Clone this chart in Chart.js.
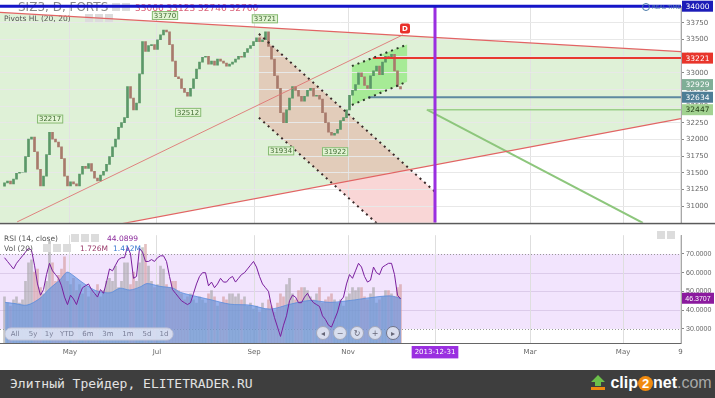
<!DOCTYPE html>
<html>
<head>
<meta charset="utf-8">
<script src="https://cdn.jsdelivr.net/npm/chart.js@4.4.0/dist/chart.umd.min.js"></script>
<style>
  body { margin: 0; background: #fff; width: 715px; height: 398px; overflow: hidden; position: relative; }
  #priceChart { position: absolute; left: 0; top: 0; }
  #rsiChart { position: absolute; left: 0; top: 229px; }
  .foot { position: absolute; left: 0; top: 370px; width: 715px; height: 28px; background: #3e3e3e; }
  .foot .cap { position: absolute; left: 10px; top: 6px; font: 13px 'DejaVu Sans Mono', monospace; color: #e2e2e2; }
  .foot .logo { position: absolute; left: 590px; top: 4px; font: bold 16px 'Liberation Sans', sans-serif; color: #fff; white-space: nowrap; }
  .foot .two { display: inline-block; width: 15px; height: 15px; border-radius: 50%; background: #f08a10; text-align: center; line-height: 15px; font-size: 13px; }
  .foot .com { color: #a8a8a8; font-weight: normal; }
</style>
</head>
<body>
<canvas id="priceChart" width="715" height="229"></canvas>
<canvas id="rsiChart" width="715" height="141"></canvas>
<div class="foot">
  <span class="cap">Элитный Трейдер, ELITETRADER.RU</span>
  <span class="logo"><svg width="16" height="17" style="vertical-align:-3px"><polygon points="8,1 15,8 11,8 11,12 5,12 5,8 1,8" fill="#6cc04a"/><rect x="1" y="13" width="14" height="3" fill="#f08a10"/></svg> clip<span class="two">2</span>net<span class="com">.com</span></span>
</div>
<script>
// x units: one candle per step, dates only as tick labels
const tickPos = [21.8, 50.8, 83.2, 114.5, 143.5, 175.2, 206.2, 225.3];
const tickText = ['May', 'Jul', 'Sep', 'Nov', '2013-12-31', 'Mar', 'May', '9'];

const firstOpen = 31300;
const closes = [
  31348, 31377, 31333, 31406, 31494, 31509, 31509, 31743, 32006, 32035,
  31816, 31553, 31304, 31450, 31772, 32108, 32006, 31962, 31889, 31713,
  31450, 31304, 31363, 31333, 31304, 31480, 31597, 31567, 31640, 31523,
  31421, 31377, 31465, 31523, 31626, 31743, 31889, 32006, 32181, 32254,
  32327, 32795, 32620, 32444, 32547, 32985, 33468, 33322, 33409, 33424,
  33351, 33497, 33570, 33643, 33614, 33424, 33175, 32942, 32912, 32766,
  32708, 32649, 32766, 32912, 33058, 33161, 33234, 33249, 33132, 33175,
  33117, 33205, 33175, 33146, 33102, 33132, 33161, 33205, 33249, 33234,
  33307, 33365, 33409, 33468, 33526, 33468, 33497, 33614, 33395, 33205,
  32956, 32766, 32401, 32254, 32444, 32620, 32795, 32737, 32649, 32576,
  32649, 32737, 32766, 32649, 32664, 32605, 32401, 32254, 32108, 32064,
  32094, 32152, 32284, 32327, 32444, 32664, 32737, 32825, 33000, 32942,
  32810, 32766, 32956, 33029, 33102, 32971, 33161, 33249, 33234, 33278,
  33029, 32795, 32760
];
const rsi = [
  68, 66, 64, 62, 65, 67, 69, 71, 73, 72, 64, 54, 48, 51, 59, 65, 61, 59, 57, 53,
  47, 43, 48, 46, 43, 48, 52, 53, 54, 51, 49, 47, 51, 49, 55, 62, 61, 64, 67, 68,
  68, 74, 70, 57, 58, 73, 71, 66, 66, 67, 66, 68, 69, 69, 66, 58, 51, 49, 47, 45,
  44, 43, 44, 49, 54, 58, 60, 60, 53, 55, 52, 54, 57, 55, 55, 57, 58, 55, 57, 59,
  60, 62, 64, 66, 63, 58, 54, 52, 50, 42, 36, 31, 26, 32, 37, 45, 48, 47, 44, 44,
  47, 49, 46, 44, 43, 42, 37, 35, 32, 31, 35, 39, 45, 47, 54, 59, 57, 61, 65, 63,
  58, 55, 56, 63, 60, 59, 63, 64, 65, 65, 59, 48, 46
];
const volume = [
  1.5, 1.3, 1.2, 1.4, 1.5, 1.3, 1.4, 2.0, 2.6, 2.7, 2.3, 2.4, 1.8, 1.6, 2.0, 3.3, 2.6, 2.0, 2.2, 2.4,
  2.8, 2.0, 1.9, 2.1, 1.7, 1.9, 1.6, 1.8, 1.5, 1.7, 1.6, 1.9, 1.5, 1.7, 2.0, 2.1, 2.0, 2.5, 1.8, 2.0,
  2.6, 2.6, 1.9, 2.3, 2.0, 2.6, 3.1, 3.2, 2.5, 2.0, 1.8, 1.9, 2.5, 2.4, 1.9, 1.8, 2.0, 2.0, 1.7, 1.6,
  1.4, 1.5, 1.6, 1.4, 1.3, 1.5, 1.4, 1.3, 1.6, 1.7, 1.5, 1.2, 1.3, 1.5, 1.4, 1.6, 1.6, 1.5, 1.6, 1.4,
  1.5, 1.2, 1.3, 1.1, 1.2, 1.0, 1.3, 1.1, 1.4, 1.2, 1.0, 1.3, 1.6, 1.5, 1.9, 2.1, 1.6, 1.4, 1.7, 1.8,
  1.8, 1.7, 1.5, 1.4, 1.6, 1.8, 1.3, 1.4, 1.5, 1.6, 1.4, 1.3, 1.4, 1.2, 1.5, 1.6, 1.8, 1.7, 1.8, 1.8,
  1.5, 1.4, 1.6, 1.8, 1.3, 1.4, 1.5, 1.7, 1.7, 1.6, 1.5, 1.8, 1.9
];
const volMaDay = [0.2, 3.5, 7.5, 11.8, 15.2, 18.5, 20.8, 22.8, 25.2, 28.5, 30.8, 35.2, 38.5, 41.8, 45.2, 47.5,
  51.8, 56.2, 58.5, 61.8, 68.5, 75.2, 81.8, 88.5, 95.2, 101.8, 108.5, 115.2, 121.8, 128.5, 132.2];
const volMa = [1.32, 1.28, 1.23, 1.45, 1.78, 2.05, 2.30, 2.20, 2.02, 1.80, 1.69, 1.63, 1.78, 1.72, 1.82, 1.93,
  1.84, 1.78, 1.65, 1.56, 1.41, 1.26, 1.23, 1.10, 1.26, 1.38, 1.32, 1.38, 1.47, 1.53, 1.45];

// drawn lines: two anchors each (day, price)
const resistDay = [-1.5, 225.5], resistVal = [33906, 33317];
const supportDay = [-1.5, 225.5], supportVal = [30393, 32313];
const thinDay = [4.2, 132.8], thinVal = [30763, 33570];
const chanTopDay = [84.8, 143.5], chanTopVal = [33585, 31216];
const chanBotDay = [84.8, 143.5], chanBotVal = [32327, 29959];
const flagTopDay = [115.8, 134.2], flagTopVal = [33102, 33424];
const flagBotDay = [115.8, 134.2], flagBotVal = [32518, 32868];
const levelStart = [122.8, 121.2, 140.8], levelVal = [33221, 32634, 32447];
const projDay = [140.8, 212.8], projVal = [32447, 30748];
const cutDay = 143.5;
const topLevel = 34000;

const pivotDay = [15.2, 53.5, 86.8, 61.2, 92.2, 110.2];
const pivotVal = [32217, 33770, 33721, 32512, 31934, 31922];
const pivotHigh = [true, true, true, false, false, false];

const markVal = [34000, 33221, 32929, 32634, 32447];
const markFill = ['#1c1cb8', '#e8352b', '#7fae97', '#4d7d96', '#a2d291'];
const markInk = ['#fff', '#fff', '#fff', '#fff', '#1e3a12'];
const markNudge = [0, 0, 7, 0, 0];

const rsiNow = 46.3707;
const headerOhlc = '33066 33123 32746 32760';

const UP = '#5b9868', DOWN = '#a87a6c';
const opens = [firstOpen].concat(closes.slice(0, -1));

function seg (days, vals) {
  return days.map((d, i) => ({ x: d, y: vals[i] }));
}

function lineDs (days, vals, color, width, dash) {
  return { type: 'line', data: seg(days, vals), borderColor: color, borderWidth: width,
    borderDash: dash || [], pointRadius: 0, fill: false, order: 1 };
}

function poly (ctx, pts, color) {
  ctx.beginPath();
  pts.forEach((p, i) => i ? ctx.lineTo(p[0], p[1]) : ctx.moveTo(p[0], p[1]));
  ctx.closePath();
  ctx.fillStyle = color;
  ctx.fill();
}

function squares (ctx, x0, y0, n) {
  ctx.fillStyle = '#dcdcdc';
  for (let i = 0; i < n; i++) ctx.fillRect(x0 + i * 10, y0, 8, 8);
}

const dots = [2, 4];

const priceDecor = {
  id: 'priceDecor',
  beforeDraw (chart) {
    const { ctx, chartArea: a, scales: { x, y } } = chart;
    const P = (d, v) => [x.getPixelForValue(d), y.getPixelForValue(v)];
    ctx.save();
    ctx.beginPath();
    ctx.rect(a.left, a.top, a.right - a.left, a.bottom - a.top);
    ctx.clip();
    poly(ctx, [P(resistDay[0], resistVal[0]), P(resistDay[1], resistVal[1]),
      P(supportDay[1], supportVal[1]), P(supportDay[0], supportVal[0])], 'rgba(165,215,145,0.36)');
    poly(ctx, [P(chanTopDay[0], chanTopVal[0]), P(chanTopDay[1], chanTopVal[1]),
      P(chanBotDay[1], chanBotVal[1]), P(chanBotDay[0], chanBotVal[0])], 'rgba(235,120,120,0.3)');
    poly(ctx, [P(flagTopDay[0], flagTopVal[0]), P(flagTopDay[1], flagTopVal[1]),
      P(flagBotDay[1], flagBotVal[1]), P(flagBotDay[0], flagBotVal[0])], 'rgba(110,230,85,0.5)');
    ctx.restore();
  },
  beforeDatasetsDraw (chart) {
    const { ctx } = chart;
    ctx.save();
    ctx.textBaseline = 'alphabetic';
    ctx.font = '12px "DejaVu Sans"';
    ctx.fillStyle = '#8a8a8a';
    ctx.fillText('SIZ3, D, FORTS', 18, 11);
    squares(ctx, 112, 3, 2);
    ctx.font = '9px "DejaVu Sans"';
    ctx.fillStyle = '#d9617a';
    ctx.fillText(headerOhlc, 135, 11);
    ctx.font = '7.5px "DejaVu Sans"';
    ctx.fillStyle = '#555';
    ctx.fillText('Pivots HL (20, 20)', 4, 21);
    squares(ctx, 85, 14, 3);
    ctx.restore();
  },
  afterDraw (chart) {
    const { ctx, chartArea: a, scales: { x, y } } = chart;
    ctx.save();
    ctx.fillStyle = '#5a5a5a';
    ctx.fillRect(0, a.bottom, 715, 1.5);

    ctx.textAlign = 'center';
    ctx.textBaseline = 'middle';
    // level boxes on the price axis
    ctx.font = '7.5px "DejaVu Sans"';
    markVal.forEach((v, i) => {
      let cy = y.getPixelForValue(v) + markNudge[i];
      const top = Math.max(0, cy - 5.5);
      ctx.fillStyle = markFill[i];
      ctx.fillRect(a.right + 1, top, 31, 11);
      ctx.fillStyle = markInk[i];
      ctx.fillText(String(v), a.right + 16.5, top + 6);
    });

    // pivot labels
    ctx.font = '7px "DejaVu Sans"';
    pivotDay.forEach((d, i) => {
      const cx = x.getPixelForValue(d);
      const cy = y.getPixelForValue(pivotVal[i]) + (pivotHigh[i] ? -6 : 7);
      const t = String(pivotVal[i]);
      const w = ctx.measureText(t).width + 4;
      ctx.fillStyle = '#e2f4d4';
      ctx.fillRect(cx - w / 2, cy - 4.5, w, 9);
      ctx.strokeStyle = '#88ba74';
      ctx.lineWidth = 1;
      ctx.strokeRect(cx - w / 2 + 0.5, cy - 4.5 + 0.5, w - 1, 8);
      ctx.fillStyle = '#3f6a30';
      ctx.fillText(t, cx, cy + 0.5);
    });

    // D marker at the end of the thin line
    const dx = x.getPixelForValue(133.5), dy = y.getPixelForValue(33665);
    ctx.fillStyle = '#e8302a';
    ctx.beginPath();
    ctx.roundRect(dx - 5, dy - 5, 10, 10, 2);
    ctx.fill();
    ctx.fillStyle = '#fff';
    ctx.font = 'bold 7px "DejaVu Sans"';
    ctx.fillText('D', dx, dy + 0.5);

    // real-time badge
    ctx.strokeStyle = '#4a7aa8';
    ctx.lineWidth = 1;
    ctx.beginPath();
    ctx.arc(646, 7, 3.5, 0, Math.PI * 2);
    ctx.stroke();
    ctx.fillStyle = '#4a7aa8';
    ctx.font = '5.5px "DejaVu Sans"';
    ctx.textAlign = 'left';
    ctx.fillText('REAL-TIME', 652, 7.5);
    ctx.restore();
  }
};

const rsiDecor = {
  id: 'rsiDecor',
  beforeDraw (chart) {
    const { ctx, chartArea: a, scales: { yr } } = chart;
    const y70 = yr.getPixelForValue(70), y30 = yr.getPixelForValue(30);
    ctx.save();
    ctx.fillStyle = '#f2e4fd';
    ctx.fillRect(a.left, y70, a.right - a.left, y30 - y70);
    ctx.lineWidth = 1;
    [40, 50, 60].forEach(v => {
      const yy = Math.round(yr.getPixelForValue(v)) + 0.5;
      ctx.strokeStyle = '#dccbea';
      ctx.beginPath(); ctx.moveTo(a.left, yy); ctx.lineTo(a.right, yy); ctx.stroke();
    });
    ctx.setLineDash([1, 2]);
    ctx.strokeStyle = '#9a9a9a';
    [y70, y30].forEach(yy => {
      yy = Math.round(yy) + 0.5;
      ctx.beginPath(); ctx.moveTo(a.left, yy); ctx.lineTo(a.right, yy); ctx.stroke();
    });
    ctx.restore();
  },
  afterDraw (chart) {
    const { ctx, chartArea: a, scales: { yr } } = chart;
    ctx.save();
    ctx.textBaseline = 'alphabetic';
    ctx.font = '7.5px "DejaVu Sans"';
    ctx.fillStyle = '#555';
    ctx.fillText('RSI (14, close)', 4, 12);
    squares(ctx, 71, 5, 3);
    ctx.fillStyle = '#8b2a9b';
    ctx.fillText('44.0899', 107, 12);
    ctx.fillStyle = '#555';
    ctx.fillText('Vol (20)', 4, 22);
    squares(ctx, 43, 15, 3);
    ctx.fillStyle = '#9a3a6a';
    ctx.fillText('1.726M', 80, 22);
    ctx.fillStyle = '#3a7ad0';
    ctx.fillText('1.412M', 113, 22);
    squares(ctx, 657, 2, 2);

    // current rsi box
    const ry = yr.getPixelForValue(rsiNow);
    ctx.fillStyle = '#8b1a9e';
    ctx.fillRect(a.right + 1, ry - 5.5, 32, 11);
    ctx.fillStyle = '#fff';
    ctx.textAlign = 'center';
    ctx.textBaseline = 'middle';
    ctx.font = '7px "Liberation Sans"';
    ctx.fillText(rsiNow.toFixed(4), a.right + 17, ry + 0.5);

    // range buttons
    ctx.fillStyle = 'rgba(236,238,248,0.75)';
    ctx.strokeStyle = '#c4c6d8';
    ctx.beginPath();
    ctx.roundRect(5, 99, 168, 12, 6);
    ctx.fill();
    ctx.stroke();
    ctx.fillStyle = '#7a7f98';
    ctx.font = '7px "DejaVu Sans"';
    const btn = ['All', '5y', '1y', 'YTD', '6m', '3m', '1m', '5d', '1d'];
    const btnX = [15, 33, 49, 67, 88, 108, 128, 147, 164];
    btn.forEach((b, i) => ctx.fillText(b, btnX[i], 105.5));

    const nav = ['\u25C2', '\u2212', '\u21BB', '+', '\u25B8'];
    const navX = [323, 340, 357, 375, 393];
    nav.forEach((s, i) => {
      ctx.fillStyle = 'rgba(230,232,242,0.85)';
      ctx.strokeStyle = i === 4 ? '#6f7488' : '#a4a8ba';
      ctx.lineWidth = 1;
      ctx.beginPath();
      ctx.arc(navX[i], 104, 6.5, 0, Math.PI * 2);
      ctx.fill();
      ctx.stroke();
      ctx.fillStyle = '#667';
      ctx.font = '8px "DejaVu Sans"';
      ctx.fillText(s, navX[i], 104.5);
    });
    ctx.restore();
  }
};

const xBase = {
  type: 'linear', min: -1.5, max: 225.5, offset: false,
  afterBuildTicks: s => { s.ticks = tickPos.map(v => ({ value: v })) }
};

const candleData = closes.map((c, i) => ({ x: i, y: [opens[i], c] }));
const candleColors = closes.map((c, i) => c >= opens[i] ? UP : DOWN);

new Chart(document.getElementById('priceChart'), {
  type: 'bar',
  data: {
    datasets: [
      Object.assign(lineDs([-1.5, 225.5], [topLevel, topLevel], '#1515c8', 3), { order: 0, clip: 3 }),
      Object.assign(lineDs([cutDay, cutDay], [30750, 34000], '#9a2fe0', 3), { order: 0 }),
      lineDs(resistDay, resistVal, '#e26464', 1.2),
      lineDs(supportDay, supportVal, '#e26464', 1.2),
      lineDs(thinDay, thinVal, 'rgba(222,112,112,0.85)', 1),
      lineDs(chanTopDay, chanTopVal, '#3b2b2b', 2, dots),
      lineDs(chanBotDay, chanBotVal, '#3b2b2b', 2, dots),
      lineDs(flagTopDay, flagTopVal, '#2e3a2a', 2, dots),
      lineDs(flagBotDay, flagBotVal, '#2e3a2a', 2, dots),
      lineDs([levelStart[0], 225.5], [levelVal[0], levelVal[0]], '#e8392f', 2),
      lineDs([levelStart[1], 225.5], [levelVal[1], levelVal[1]], '#5e8aa0', 2),
      lineDs([levelStart[2], 225.5], [levelVal[2], levelVal[2]], '#9ccf8a', 1.5),
      lineDs(projDay, projVal, '#8dc67c', 2),
      {
        type: 'bar', data: candleData, backgroundColor: candleColors,
        barThickness: 2, order: 10
      }
    ]
  },
  options: {
    responsive: false,
    animation: false,
    events: [],
    layout: { padding: { top: 5, bottom: 1, left: 0, right: 0 } },
    plugins: { legend: { display: false }, tooltip: { enabled: false } },
    scales: {
      x: Object.assign({}, xBase, {
        ticks: { display: false },
        grid: { color: '#e2e2e2', drawTicks: false, offset: false },
        border: { display: false }
      }),
      y: {
        position: 'right', min: 30750, max: 34000,
        afterFit: s => { s.width = 34 },
        afterBuildTicks: s => { s.ticks = s.ticks.filter(t => t.value > 30750 && t.value < 34000) },
        ticks: { stepSize: 250, color: '#666', padding: 2, font: { size: 7, family: 'DejaVu Sans' }, callback: v => String(v) },
        grid: { color: '#e8e8e8', tickLength: 3, tickColor: '#888' },
        border: { color: '#a8a8a8' }
      }
    }
  },
  plugins: [priceDecor]
});

const volColors = closes.map((c, i) => c >= opens[i] ? 'rgba(160,160,160,0.6)' : 'rgba(210,150,150,0.6)');

new Chart(document.getElementById('rsiChart'), {
  type: 'bar',
  data: {
    datasets: [
      {
        type: 'line', data: rsi.map((v, i) => ({ x: i, y: v })), yAxisID: 'yr',
        borderColor: '#7a1f9e', borderWidth: 1, pointRadius: 0, fill: false, order: 0
      },
      {
        type: 'line', data: seg(volMaDay, volMa), yAxisID: 'yv',
        borderColor: 'rgba(90,140,220,0.8)', borderWidth: 1,
        backgroundColor: 'rgba(95,145,225,0.62)', fill: 'origin', pointRadius: 0, tension: 0.3, order: 1
      },
      {
        type: 'bar', data: volume.map((v, i) => ({ x: i, y: v })), yAxisID: 'yv',
        backgroundColor: volColors, barThickness: 2, order: 2
      }
    ]
  },
  options: {
    responsive: false,
    animation: false,
    events: [],
    layout: { padding: 0 },
    plugins: { legend: { display: false }, tooltip: { enabled: false } },
    scales: {
      x: Object.assign({}, xBase, {
        afterFit: s => { s.height = 27 },
        ticks: {
          autoSkip: false, maxRotation: 0, padding: 5,
          font: { size: 7, family: 'DejaVu Sans' },
          color: c => c.index === 4 ? '#fff' : '#666',
          showLabelBackdrop: c => c.index === 4,
          backdropColor: '#9a2fe0',
          backdropPadding: { x: 3, y: 2 },
          callback: (v, i) => tickText[i]
        },
        grid: { color: '#dedede', drawTicks: false, offset: false },
        border: { color: '#666' }
      }),
      yr: {
        position: 'right', min: 22.5, max: 80,
        afterFit: s => { s.width = 34 },
        afterBuildTicks: s => { s.ticks = [30, 40, 50, 60, 70].map(v => ({ value: v })) },
        ticks: { color: '#666', padding: 2, font: { size: 7, family: 'Liberation Sans' }, callback: v => v.toFixed(4) },
        grid: { display: true, drawOnChartArea: false, tickLength: 3, tickColor: '#888' },
        border: { color: '#a8a8a8' }
      },
      yv: { display: false, min: 0, max: 3.5 }
    }
  },
  plugins: [rsiDecor]
});
</script>
</body>
</html>
